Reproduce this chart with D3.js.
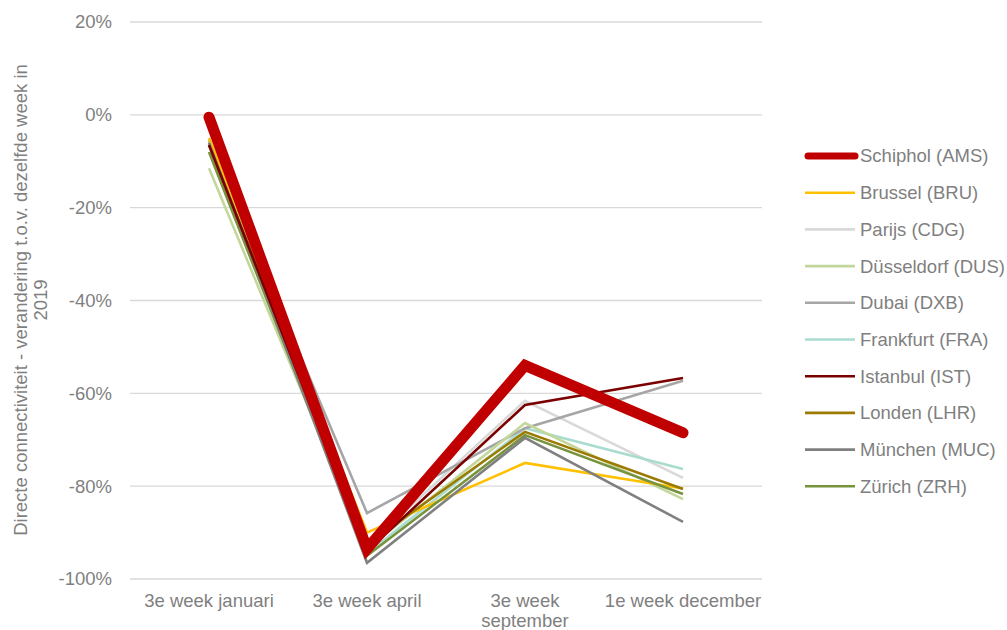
<!DOCTYPE html>
<html>
<head>
<meta charset="utf-8">
<script src="https://d3js.org/d3.v7.min.js"></script>
<style>
  body { margin: 0; background: #fff; }
  text { font-family: Arial, "Liberation Sans", sans-serif; fill: #7f7f7f; }
</style>
</head>
<body>
<script>
// categories (x axis)
var weeks = ["3e week januari", "3e week april", "3e week september", "1e week december"];
var weekLabels = [["3e week januari"], ["3e week april"], ["3e week", "september"], ["1e week december"]];

// series names + values (% change vs same week 2019)
var names = ["Schiphol (AMS)", "Brussel (BRU)", "Parijs (CDG)", "Düsseldorf (DUS)", "Dubai (DXB)",
             "Frankfurt (FRA)", "Istanbul (IST)", "Londen (LHR)", "München (MUC)", "Zürich (ZRH)"];
var colors = ["#c00000", "#ffc000", "#d9d9d9", "#c4d79b", "#a6a6a6",
              "#a9dccf", "#7b0000", "#9c7a00", "#808080", "#77933c"];
var AMS = [-0.5, -93.5, -54, -68.5];
var BRU = [-5, -90, -75, -80.5];
var CDG = [-5.5, -93, -61.6, -78.2];
var DUS = [-11.5, -93.5, -66.4, -82.8];
var DXB = [-5.5, -85.8, -67.5, -57.3];
var FRA = [-6, -94.5, -67.5, -76.3];
var IST = [-6.5, -94, -62.5, -56.7];
var LHR = [-6.5, -92.5, -68.3, -80.6];
var MUC = [-6, -96.5, -69.6, -87.7];
var ZRH = [-8, -95, -69, -81.7];
var values = [AMS, BRU, CDG, DUS, DXB, FRA, IST, LHR, MUC, ZRH];
var yTicks = [20, 0, -20, -40, -60, -80, -100];

var W = 1007, H = 630;
var mLeft = 130, mRight = 762, mTop = 22, mBottom = 579;
var fs = "18.5px";

var svg = d3.select("body").append("svg").attr("width", W).attr("height", H);

var x = d3.scalePoint().domain(weeks).range([mLeft, mRight]).padding(0.5);
var y = d3.scaleLinear().domain([-100, 20]).range([mBottom, mTop]);

// gridlines
svg.append("g").selectAll("line").data(yTicks).enter().append("line")
  .attr("x1", mLeft).attr("x2", mRight)
  .attr("y1", d => y(d)).attr("y2", d => y(d))
  .attr("stroke", "#d9d9d9").attr("stroke-width", 1.3);

// y tick labels
svg.append("g").selectAll("text").data(yTicks).enter().append("text")
  .attr("x", 112).attr("y", d => y(d)).attr("dy", "0.35em")
  .attr("text-anchor", "end").style("font-size", fs)
  .text(d => d + "%");

// x labels
var xl = svg.append("g").selectAll("text").data(weeks).enter().append("text")
  .attr("x", d => x(d)).attr("y", 607)
  .attr("text-anchor", "middle").style("font-size", fs);
xl.each(function(d, i) {
  var t = d3.select(this);
  weekLabels[i].forEach(function(s, j) {
    t.append("tspan").attr("x", x(d)).attr("dy", j === 0 ? 0 : 20).text(s);
  });
});

// y axis title
var yt = svg.append("text").attr("transform", "translate(27,300) rotate(-90)")
  .attr("text-anchor", "middle").style("font-size", fs);
yt.append("tspan").attr("x", 0).attr("dy", 0).text("Directe connectiviteit - verandering t.o.v. dezelfde week in");
yt.append("tspan").attr("x", 0).attr("dy", 20).text("2019");

var line = d3.line().x((d, i) => x(weeks[i])).y(d => y(d));

// other airports first, Schiphol on top
var order = [2, 5, 4, 3, 1, 7, 9, 8, 6, 0];
svg.append("g").selectAll("path").data(order).enter().append("path")
  .attr("d", i => line(values[i]))
  .attr("fill", "none")
  .attr("stroke", i => colors[i])
  .attr("stroke-width", i => i === 0 ? 11 : 2.6)
  .attr("stroke-linecap", i => i === 0 ? "round" : "butt")
  .attr("stroke-linejoin", "miter");

// legend
var lg = svg.append("g").selectAll("g").data(names).enter().append("g")
  .attr("transform", (d, i) => "translate(805," + (156 + i * 36.7) + ")");
lg.append("line").attr("x1", (d, i) => i === 0 ? 3 : 0).attr("x2", (d, i) => i === 0 ? 50 : 50)
  .attr("stroke", (d, i) => colors[i])
  .attr("stroke-width", (d, i) => i === 0 ? 7 : 2.6)
  .attr("stroke-linecap", (d, i) => i === 0 ? "round" : "butt");
lg.append("text").attr("x", 55).attr("dy", "0.35em").style("font-size", fs).text(d => d);
</script>
</body>
</html>
